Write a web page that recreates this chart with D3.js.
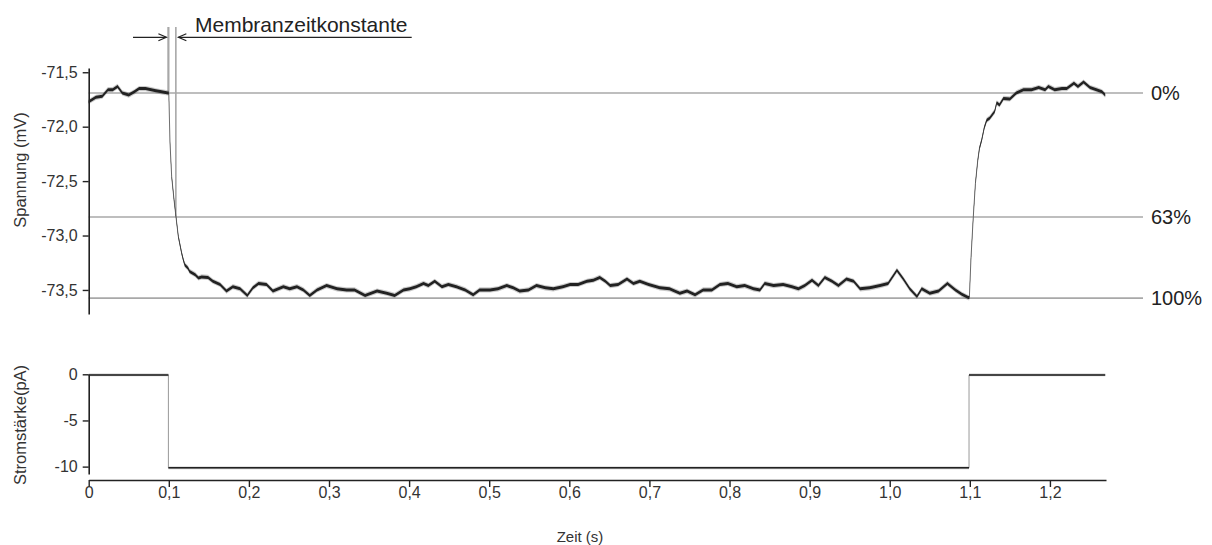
<!DOCTYPE html>
<html>
<head>
<meta charset="utf-8">
<script src="https://cdn.jsdelivr.net/npm/d3@7/dist/d3.min.js"></script>
<style>
  html, body { margin: 0; padding: 0; background: #fff; }
  svg { display: block; font-family: "Liberation Sans", Arial, sans-serif; }
</style>
</head>
<body>
<svg id="chart" width="1212" height="545"></svg>
<script>
// Membrane potential (mV) over time (s) during a -10 pA current step
const voltTime = [
  0, 0.009, 0.017, 0.024, 0.030, 0.036, 0.042, 0.050, 0.057, 0.063, 0.071, 0.078, 0.084, 0.091, 0.099,
  0.1000, 0.1015, 0.1036, 0.1065, 0.1090, 0.1119, 0.1160, 0.1180, 0.1200, 0.1240, 0.1260, 0.1330, 0.1370,
  0.141, 0.149, 0.155, 0.164, 0.172, 0.180, 0.189, 0.198, 0.205, 0.212, 0.222, 0.230, 0.243, 0.251, 0.260,
  0.268, 0.276, 0.285, 0.297, 0.310, 0.322, 0.332, 0.345, 0.360, 0.372, 0.382, 0.393, 0.401, 0.409, 0.418,
  0.424, 0.432, 0.441, 0.449, 0.459, 0.470, 0.480, 0.488, 0.501, 0.511, 0.522, 0.530, 0.538, 0.549, 0.559,
  0.570, 0.580, 0.592, 0.601, 0.611, 0.622, 0.630, 0.638, 0.645, 0.651, 0.661, 0.672, 0.680, 0.688, 0.699,
  0.713, 0.725, 0.738, 0.747, 0.757, 0.767, 0.778, 0.788, 0.798, 0.809, 0.819, 0.830, 0.838, 0.844, 0.855,
  0.867, 0.878, 0.886, 0.894, 0.903, 0.911, 0.919, 0.928, 0.936, 0.946, 0.955, 0.963, 0.975, 0.988, 0.998,
  1.009, 1.017, 1.025, 1.034, 1.040, 1.050, 1.061, 1.072, 1.082, 1.090, 1.098,
  1.0994, 1.1015, 1.1043, 1.1070, 1.1099, 1.1120, 1.1149, 1.1180, 1.1211, 1.1250, 1.1310, 1.1336, 1.1370,
  1.142, 1.150, 1.158, 1.167, 1.177, 1.186, 1.194, 1.198, 1.206, 1.215, 1.221, 1.230, 1.235, 1.242, 1.250,
  1.258, 1.265, 1.269
];
const voltValues = [
  -71.77, -71.73, -71.72, -71.66, -71.66, -71.63, -71.69, -71.71, -71.68, -71.65, -71.65, -71.66, -71.67, -71.68, -71.69,
  -71.69, -72.15, -72.46, -72.67, -72.83, -73.01, -73.16, -73.22, -73.27, -73.30, -73.33, -73.36, -73.39,
  -73.38, -73.385, -73.42, -73.45, -73.51, -73.47, -73.49, -73.55, -73.48, -73.44, -73.45, -73.51, -73.47, -73.49, -73.47,
  -73.50, -73.55, -73.50, -73.46, -73.49, -73.50, -73.50, -73.55, -73.51, -73.53, -73.55, -73.50, -73.49, -73.47, -73.44,
  -73.46, -73.42, -73.47, -73.45, -73.47, -73.50, -73.545, -73.50, -73.50, -73.49, -73.46, -73.48, -73.51, -73.50, -73.46,
  -73.48, -73.49, -73.47, -73.45, -73.45, -73.42, -73.41, -73.385, -73.42, -73.46, -73.45, -73.40, -73.44, -73.42, -73.45,
  -73.48, -73.49, -73.53, -73.51, -73.545, -73.50, -73.50, -73.45, -73.44, -73.47, -73.46, -73.49, -73.50, -73.44, -73.46,
  -73.45, -73.47, -73.49, -73.46, -73.41, -73.46, -73.385, -73.42, -73.46, -73.40, -73.42, -73.49, -73.48, -73.46, -73.44,
  -73.32, -73.40, -73.49, -73.56, -73.49, -73.53, -73.51, -73.44, -73.50, -73.54, -73.57,
  -73.57, -73.20, -72.83, -72.52, -72.31, -72.20, -72.12, -72.01, -71.94, -71.92, -71.86, -71.78, -71.80,
  -71.74, -71.745, -71.69, -71.66, -71.66, -71.64, -71.66, -71.63, -71.66, -71.65, -71.65, -71.60, -71.63, -71.59, -71.64,
  -71.66, -71.68, -71.71
];

// Injected current (pA)
const currentTime = [0, 0.0995, 0.0995, 1.099, 1.099, 1.269];
const currentValues = [-0.07, -0.07, -10.13, -10.13, -0.07, -0.07];

// Reference levels of the voltage response
const refLabels = ["0%", "63%", "100%"];
const refValues = [-71.69, -72.83, -73.575];

// Time constant markers: step onset and 63 % crossing
const tauTimes = [0.0995, 0.1088];

// Axis ticks
const timeTicks = [0, 0.1, 0.2, 0.3, 0.4, 0.5, 0.6, 0.7, 0.8, 0.9, 1.0, 1.1, 1.2];
const timeTickLabels = ["0", "0,1", "0,2", "0,3", "0,4", "0,5", "0,6", "0,7", "0,8", "0,9", "1,0", "1,1", "1,2"];
const voltTicks = [-71.5, -72.0, -72.5, -73.0, -73.5];
const voltTickLabels = ["-71,5", "-72,0", "-72,5", "-73,0", "-73,5"];
const currTicks = [0, -5, -10];
const currTickLabels = ["0", "-5", "-10"];

const svg = d3.select("#chart");
const ink = "#222";
const refGray = "#a8a8a8";

const x = d3.scaleLinear().domain([0, 1.27]).range([88.7, 1106]);
const yV = d3.scaleLinear().domain([-73.72, -71.46]).range([313.9, 67.9]);
const yI = d3.scaleLinear().domain([-10.8, 0]).range([474, 374.3]);

const volt = voltTime.map((t, i) => ({ t, v: voltValues[i] }));
const curr = currentTime.map((t, i) => ({ t, v: currentValues[i] }));

// ---- Reference levels
const refG = svg.append("g");
refValues.forEach((v, i) => {
  refG.append("line")
    .attr("x1", x(0)).attr("x2", 1143)
    .attr("y1", yV(v)).attr("y2", yV(v))
    .attr("stroke", refGray).attr("stroke-width", 1.6);
  refG.append("text")
    .attr("x", 1151).attr("y", yV(v))
    .attr("dy", "0.36em")
    .attr("font-size", 20).attr("fill", ink)
    .text(refLabels[i]);
});

// ---- Time constant markers
svg.append("line")
  .attr("x1", x(tauTimes[0])).attr("x2", x(tauTimes[0]))
  .attr("y1", 27).attr("y2", yV(refValues[0]))
  .attr("stroke", refGray).attr("stroke-width", 2.2);
svg.append("line")
  .attr("x1", x(tauTimes[1])).attr("x2", x(tauTimes[1]))
  .attr("y1", 27).attr("y2", yV(refValues[1]))
  .attr("stroke", refGray).attr("stroke-width", 1.6);

// Arrows pointing at the two markers
const arrowY = 37.3;
function arrow(xFrom, xTo) {
  const dir = Math.sign(xTo - xFrom);
  svg.append("line")
    .attr("x1", xFrom).attr("x2", xTo)
    .attr("y1", arrowY).attr("y2", arrowY)
    .attr("stroke", ink).attr("stroke-width", 1.2);
  svg.append("path")
    .attr("d", `M${xTo - dir * 8},${arrowY - 3.5}L${xTo},${arrowY}L${xTo - dir * 8},${arrowY + 3.5}`)
    .attr("fill", "none").attr("stroke", ink).attr("stroke-width", 1.2);
}
arrow(133, x(tauTimes[0]) - 2);
arrow(411.7, x(tauTimes[1]) + 2.5);

svg.append("text")
  .attr("x", 195).attr("y", 31.5)
  .attr("font-size", 21).attr("fill", ink)
  .text("Membranzeitkonstante");

// ---- Traces: a noise band around the sampled signal plus a thin core line
function trace(data, yScale, half, halo, coreColor) {
  const g = svg.append("g");
  g.append("path").datum(data)
    .attr("d", d3.area().x(d => x(d.t)).y0(d => yScale(d.v) - halo).y1(d => yScale(d.v) + halo))
    .attr("fill", "#666").attr("opacity", 0.35);
  g.append("path").datum(data)
    .attr("d", d3.line().x(d => x(d.t)).y(d => yScale(d.v)))
    .attr("fill", "none").attr("stroke", coreColor).attr("stroke-width", 1);
  g.append("path").datum(data)
    .attr("d", d3.area().x(d => x(d.t)).y0(d => yScale(d.v) - half).y1(d => yScale(d.v) + half))
    .attr("fill", ink);
}
trace(volt, yV, 1.5, 2.6, "#777");
trace(curr, yI, 0.8, 1.4, "#999");

// ---- Axes
function styleAxis(g) {
  g.select(".domain").attr("stroke", ink).attr("stroke-width", 1.6);
  g.selectAll(".tick line").attr("stroke", ink).attr("stroke-width", 1.4);
  g.selectAll(".tick text")
    .attr("fill", "#333").attr("font-size", 16)
    .attr("font-family", "\"Liberation Sans\", Arial, sans-serif");
}

svg.append("g")
  .attr("transform", `translate(${x(0)},0)`)
  .call(d3.axisLeft(yV).tickValues(voltTicks).tickFormat((d, i) => voltTickLabels[i])
    .tickSize(6).tickSizeOuter(0).tickPadding(5))
  .call(styleAxis);

svg.append("g")
  .attr("transform", `translate(${x(0)},0)`)
  .call(d3.axisLeft(yI).tickValues(currTicks).tickFormat((d, i) => currTickLabels[i])
    .tickSize(6).tickSizeOuter(0).tickPadding(5))
  .call(styleAxis);

svg.append("g")
  .attr("transform", "translate(0,480)")
  .call(d3.axisBottom(x).tickValues(timeTicks).tickFormat((d, i) => timeTickLabels[i])
    .tickSize(7).tickSizeOuter(0).tickPadding(0))
  .call(styleAxis);

// ---- Axis titles
svg.append("text")
  .attr("transform", "translate(20,170) rotate(-90)")
  .attr("text-anchor", "middle").attr("dy", "0.35em")
  .attr("font-size", 16.5).attr("fill", "#333")
  .text("Spannung (mV)");
svg.append("text")
  .attr("transform", "translate(20,425) rotate(-90)")
  .attr("text-anchor", "middle").attr("dy", "0.35em")
  .attr("font-size", 16.5).attr("fill", "#333")
  .text("Stromstärke(pA)");
svg.append("text")
  .attr("x", 580).attr("y", 537)
  .attr("text-anchor", "middle").attr("dy", "0.35em")
  .attr("font-size", 15).attr("fill", "#333")
  .text("Zeit (s)");
</script>
</body>
</html>
